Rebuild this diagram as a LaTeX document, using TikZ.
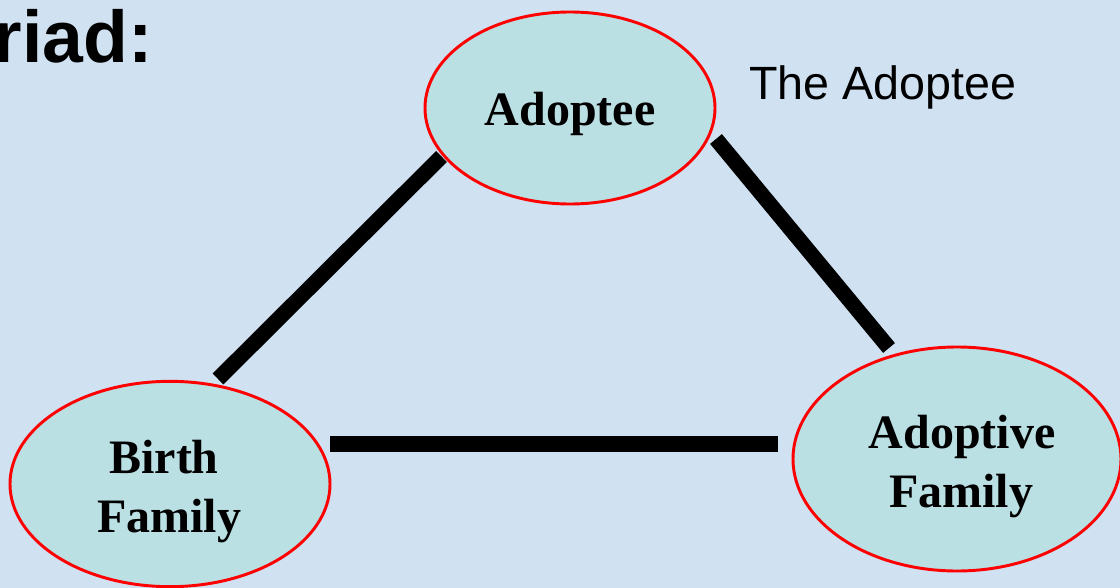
\documentclass[tikz,border=0pt]{standalone}
\usepackage{fontspec}
\setmainfont{Liberation Serif}
\newfontfamily\arialfont{Liberation Sans}
\usetikzlibrary{shapes.geometric}
\definecolor{bgblue}{RGB}{208,225,242}
\definecolor{ellfill}{RGB}{186,224,227}
\definecolor{ellred}{RGB}{255,0,0}
\tikzset{
  ell/.style={ellipse, draw=ellred, line width=2.2pt, fill=ellfill, inner sep=0pt},
  lbl/.style={font=\fontsize{36}{44}\selectfont\bfseries, anchor=base, inner sep=0pt},
  tie/.style={line width=11.5pt, line cap=butt, black}
}
\begin{document}
\begin{tikzpicture}[x=0.75pt, y=-0.75pt]
\useasboundingbox (0,0) rectangle (1120,588);
\fill[bgblue] (0,0) rectangle (1120,588);
% heading fragment
\node[font=\arialfont\fontsize{55}{60}\selectfont\bfseries, anchor=base east, inner sep=0pt] (title) at (153,63) {riad:};
\node[font=\arialfont\fontsize{35}{40}\selectfont, anchor=base west, inner sep=0pt] (caption) at (749,100) {The Adoptee};
% ellipses
\node[ell, minimum width=217.5pt, minimum height=144pt] (adoptee) at (570,108) {};
\node[ell, minimum width=240pt, minimum height=154pt] (birth) at (170,484) {};
\node[ell, minimum width=246pt, minimum height=168pt] (adoptive) at (957,459) {};
% labels
\node[lbl] (tA) at (570,126) {Adoptee};
\node[lbl] (tB1) at (164,473) {Birth};
\node[lbl] (tB2) at (169,532) {Family};
\node[lbl] (tC1) at (962,448) {Adoptive};
\node[lbl] (tC2) at (961,507) {Family};
% connector ends
\coordinate (a1) at (441.5,156.5);
\coordinate (b1) at (218,379);
\coordinate (a2) at (716,139);
\coordinate (c2) at (889,348);
\coordinate (b3) at (330,444);
\coordinate (c3) at (778,444);
\draw[tie] (a1) -- (b1);
\draw[tie] (a2) -- (c2);
\draw[tie] (b3) -- (c3);
\end{tikzpicture}
\end{document}
